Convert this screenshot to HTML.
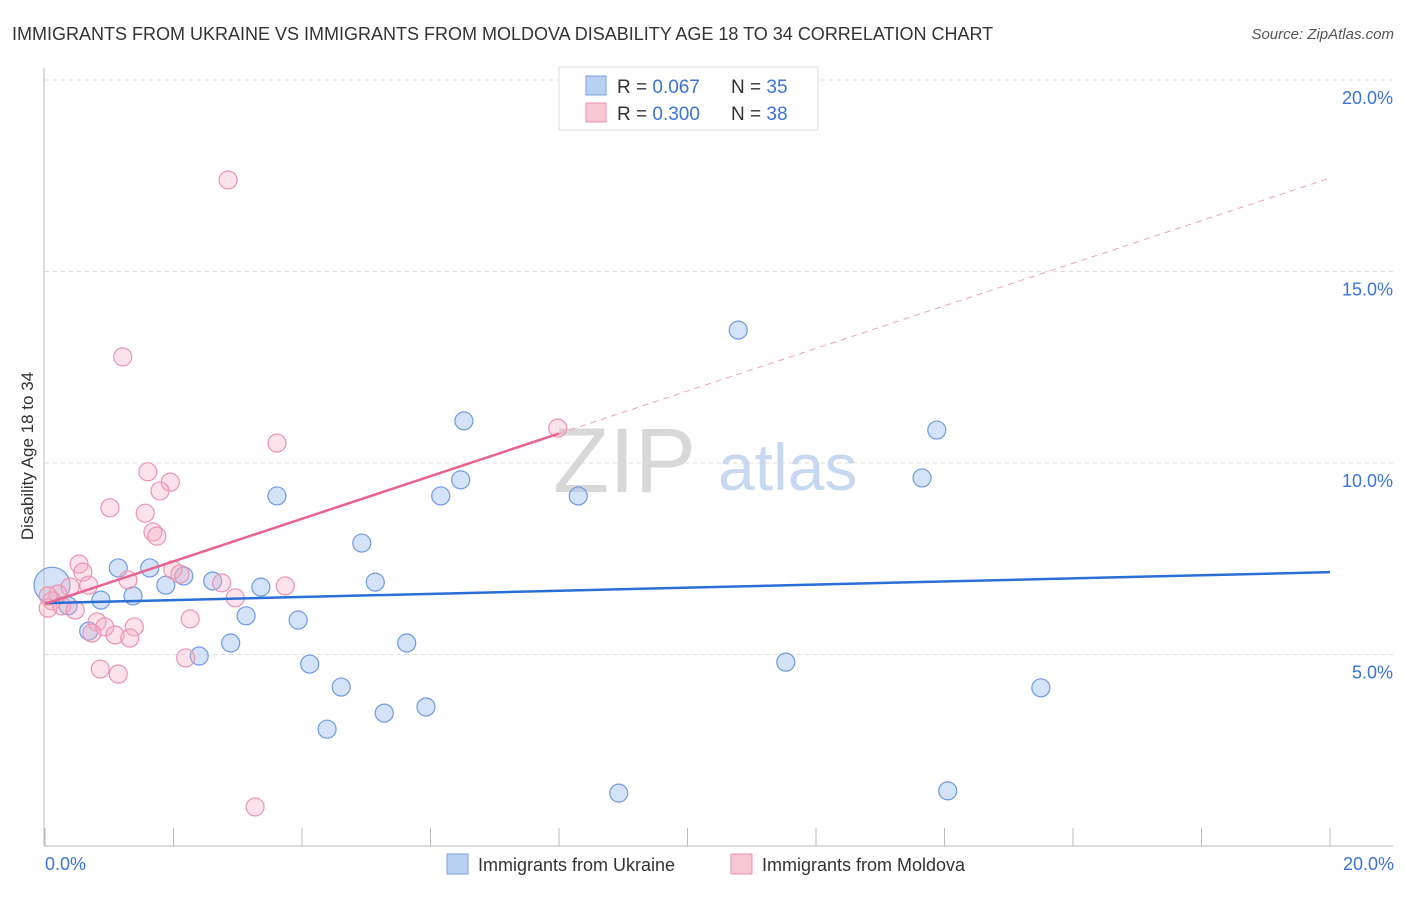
<!DOCTYPE html>
<html><head><meta charset="utf-8"><style>
body{margin:0;background:#fff;font-family:"Liberation Sans",sans-serif}
svg text{font-family:"Liberation Sans",sans-serif}
</style></head><body>
<svg id="chart" width="1406" height="892" viewBox="0 0 1406 892" xmlns="http://www.w3.org/2000/svg">
<text x="12" y="40" font-size="18" fill="#333">IMMIGRANTS FROM UKRAINE VS IMMIGRANTS FROM MOLDOVA DISABILITY AGE 18 TO 34 CORRELATION CHART</text>
<text x="1394" y="39" font-size="15" fill="#555" text-anchor="end" font-style="italic">Source: ZipAtlas.com</text>
<g>
<text x="553" y="492" font-size="92" fill="#d8d8d8" font-family="Liberation Serif, serif">ZIP</text>
<text x="718" y="490" font-size="66" fill="#c8d8f0">atlas</text>
</g>
<g id="grid"></g>
<g id="axes"></g>
<g id="pts"></g>
<g id="trends"></g>
<text transform="translate(33,456) rotate(-90)" font-size="17" fill="#333" text-anchor="middle">Disability Age 18 to 34</text>
<text x="45" y="870" font-size="18" fill="#3b73d6">0.0%</text>
<text x="1394" y="870" font-size="18" fill="#3b73d6" text-anchor="end">20.0%</text>
<g>
<rect x="559" y="67" width="259" height="63" fill="#fff" stroke="#ddd"/>
<rect x="586" y="76" width="20" height="19" fill="#b9d0f3" stroke="#7aa3e3"/>
<rect x="586" y="103" width="20" height="19" fill="#f8c7d6" stroke="#ec8fae"/>
<text x="617" y="93" font-size="19" fill="#333">R = <tspan fill="#3b73d6">0.067</tspan><tspan x="731">N = </tspan><tspan fill="#3b73d6">35</tspan></text>
<text x="617" y="120" font-size="19" fill="#333">R = <tspan fill="#3b73d6">0.300</tspan><tspan x="731">N = </tspan><tspan fill="#3b73d6">38</tspan></text>
</g>
<g>
<rect x="447" y="854" width="21" height="20" fill="#b9d0f3" stroke="#7aa3e3"/>
<text x="478" y="871" font-size="18" fill="#333">Immigrants from Ukraine</text>
</g>
<g>
<rect x="731" y="854" width="21" height="20" fill="#f8c7d6" stroke="#ec8fae"/>
<text x="762" y="871" font-size="18" fill="#333">Immigrants from Moldova</text>
</g>
</svg>
<script>
const yTicks=[5,10,15,20];
const yTickLabels=["5.0%","10.0%","15.0%","20.0%"];
const xTicks=[0,2,4,6,8,10,12,14,16,18,20];
const ukraineX=[0.11,0.36,0.87,0.68,1.14,1.37,1.63,1.88,2.16,2.40,2.61,2.89,3.13,3.36,3.61,3.94,4.12,4.61,4.93,5.14,5.28,5.63,5.93,4.39,6.16,6.47,6.52,8.30,8.93,10.79,11.53,13.65,13.88,14.05,15.50];
const ukraineY=[6.81,6.27,6.42,5.61,7.26,6.53,7.26,6.81,7.05,4.96,6.92,5.30,6.01,6.76,9.14,5.90,4.75,4.15,7.91,6.89,3.47,5.30,3.63,3.05,9.14,9.56,11.10,9.14,1.38,13.47,4.80,9.61,10.86,1.44,4.13];
const moldovaX=[2.85,1.21,3.61,1.60,1.95,1.79,1.01,1.56,1.68,1.74,0.53,0.59,1.99,2.10,1.29,0.68,0.39,2.75,3.74,2.96,0.20,0.11,0.05,0.26,0.47,2.26,0.81,0.93,1.39,0.73,1.09,1.32,2.19,0.86,1.14,3.27,7.98,0.05];
const moldovaY=[17.39,12.77,10.52,9.77,9.50,9.27,8.83,8.69,8.20,8.09,7.36,7.15,7.21,7.10,6.95,6.81,6.76,6.87,6.79,6.48,6.58,6.40,6.21,6.27,6.16,5.93,5.85,5.72,5.72,5.56,5.51,5.43,4.91,4.62,4.49,1.02,10.91,6.53];
const ukraineTrend=[6.34,7.15];   // y at x=0 and x=20
const moldovaTrend=[6.32,17.44];  // y at x=0 and x=20
const moldovaSolidEnd=8.0;
const NS="http://www.w3.org/2000/svg";
const X=v=>45+v/20*1285;
const Y=v=>846-v/5*191.5;
function mk(tag,attrs,parent){const e=document.createElementNS(NS,tag);for(const k in attrs)e.setAttribute(k,attrs[k]);parent.appendChild(e);return e;}
const grid=document.getElementById('grid'),axes=document.getElementById('axes'),pts=document.getElementById('pts'),tr=document.getElementById('trends');
yTicks.forEach((t,i)=>{
 const l=mk('line',{x1:45,x2:1393,y1:Y(t),y2:Y(t),stroke:'#ddd','stroke-dasharray':'4,4'},grid);
 
 
 const tx=mk('text',{x:1393,y:Y(t)+24,'font-size':18,fill:'#3b73d6','text-anchor':'end'},grid);
 tx.textContent=yTickLabels[i];
 
 
});
mk('line',{x1:44,x2:44,y1:68,y2:846,stroke:'#bbb'},axes);
mk('line',{x1:44,x2:1393,y1:846,y2:846,stroke:'#bbb'},axes);
xTicks.forEach(t=>{
 const l=mk('line',{x1:X(t),x2:X(t),y1:828,y2:846,stroke:'#bbb'},axes);
 
 
});
ukraineX.forEach((x,i)=>{
 const c=mk('circle',{cx:X(x),cy:Y(ukraineY[i]),r:i==0?18:9,fill:'rgba(160,192,238,0.45)',stroke:'#6f9be0','stroke-width':1.2},pts);
 
 
});
moldovaX.forEach((x,i)=>{
 const c=mk('circle',{cx:X(x),cy:Y(moldovaY[i]),r:9,fill:'rgba(245,172,196,0.35)',stroke:'#ec93b0','stroke-width':1.2},pts);
 
 
});
const bl=mk('line',{x1:X(0),y1:Y(ukraineTrend[0]),x2:X(20),y2:Y(ukraineTrend[1]),stroke:'#2a6fd6','stroke-width':2.5},tr);


const my=x=>moldovaTrend[0]+(moldovaTrend[1]-moldovaTrend[0])*x/20;
const pl=mk('line',{x1:X(0),y1:Y(my(0)),x2:X(moldovaSolidEnd),y2:Y(my(moldovaSolidEnd)),stroke:'#e8638f','stroke-width':2.5},tr);


const pd=mk('line',{x1:X(moldovaSolidEnd),y1:Y(my(moldovaSolidEnd)),x2:X(20),y2:Y(my(20)),stroke:'#eea0b8','stroke-width':1,'stroke-dasharray':'6,5'},tr);


</script>
</body></html>
